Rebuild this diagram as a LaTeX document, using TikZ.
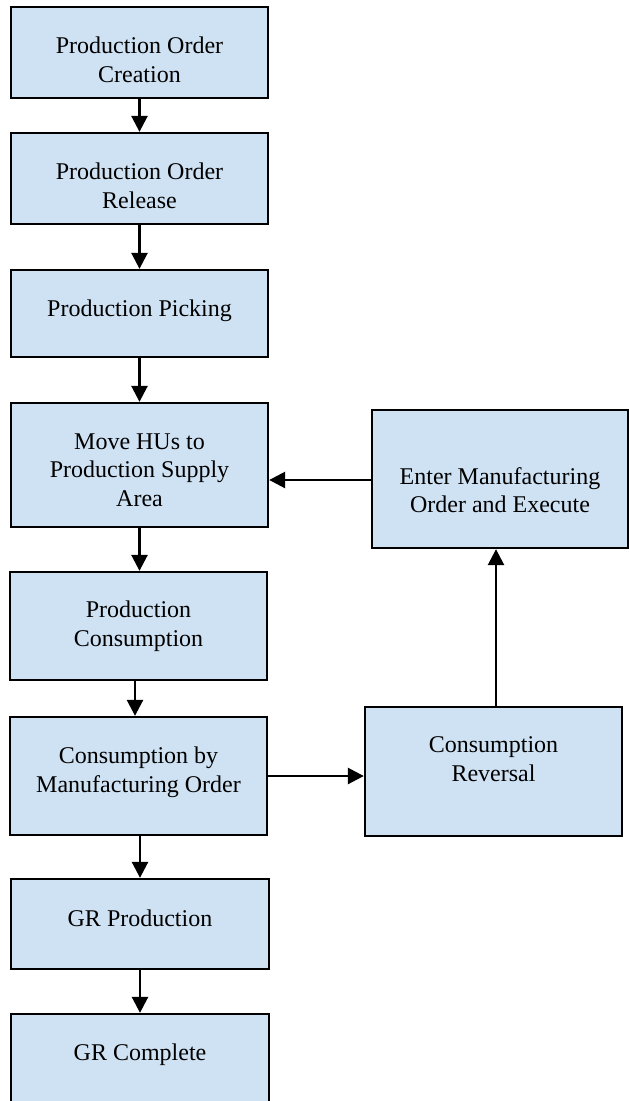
\documentclass[tikz,border=0pt]{standalone}
\usepackage{fontspec}
\setmainfont{Liberation Serif}
\usetikzlibrary{arrows.meta}
\definecolor{boxfill}{RGB}{207,226,243}
\begin{document}
\begin{tikzpicture}[x=1pt,y=-1pt,
  box/.style={draw=black, fill=boxfill, line width=2.3pt, inner sep=0pt},
  lbl/.style={font=\fontsize{24}{28.8}\selectfont, align=center, inner sep=0pt, text depth=0pt},
  arr/.style={line width=2.6pt, -{Triangle[length=16pt,width=16pt]}}]
\useasboundingbox (0,0) rectangle (629,1101);
\clip (0,0) rectangle (629,1101);
% left column boxes
\node[box, minimum width=257pt, minimum height=91pt] (b1) at (139.5,52.5) {};
\node[box, minimum width=257pt, minimum height=91pt] (b2) at (139.5,178.5) {};
\node[box, minimum width=257pt, minimum height=87pt] (b3) at (139.5,313.5) {};
\node[box, minimum width=257pt, minimum height=124pt] (b4) at (139.5,465) {};
\node[box, minimum width=257pt, minimum height=108pt] (b5) at (138.5,626) {};
\node[box, minimum width=257pt, minimum height=118pt] (b6) at (138.5,776) {};
\node[box, minimum width=258pt, minimum height=90pt] (b7) at (140,924) {};
\node[box, minimum width=258pt, minimum height=96pt] (b8) at (140,1062) {};
% right column boxes
\node[box, minimum width=256pt, minimum height=138pt] (r1) at (500,479) {};
\node[box, minimum width=257pt, minimum height=129pt] (r2) at (493.5,771.5) {};
% labels
\node[lbl] (t1) at (139.5,60) {Production Order\\Creation};
\node[lbl] (t2) at (139.5,186) {Production Order\\Release};
\node[lbl] (t3) at (139.5,308) {Production Picking};
\node[lbl] (t4) at (139.5,470) {Move HUs to\\Production Supply\\Area};
\node[lbl] (t5) at (138.5,624) {Production\\Consumption};
\node[lbl] (t6) at (138.5,770) {Consumption by\\Manufacturing Order};
\node[lbl] (t7) at (140,918) {GR Production};
\node[lbl] (t8) at (140,1052) {GR Complete};
\node[lbl] (t9) at (500,490) {Enter Manufacturing\\Order and Execute};
\node[lbl] (t10) at (493.5,759) {Consumption\\Reversal};
% connectors
\draw[arr] (b1.south) -- (b2.north);
\draw[arr] (b2.south) -- (b3.north);
\draw[arr] (b3.south) -- (b4.north);
\draw[arr] (b4.south) -- (b4.south |- b5.north);
\draw[arr] ([xshift=-3.5pt]b5.south) -- ([xshift=-3.5pt]b5.south |- b6.north);
\draw[arr] ([xshift=1.5pt]b6.south) -- ([xshift=1.5pt]b6.south |- b7.north);
\draw[arr] (b7.south) -- (b7.south |- b8.north);
\draw[arr] (b6.east) -- (r2.west |- b6.east);
\draw[arr] ([xshift=2.5pt]r2.north) -- ([xshift=2.5pt]r2.north |- r1.south);
\draw[arr] ([yshift=-1pt]r1.west) -- ([yshift=-1pt]b4.east |- r1.west);
\end{tikzpicture}
\end{document}
